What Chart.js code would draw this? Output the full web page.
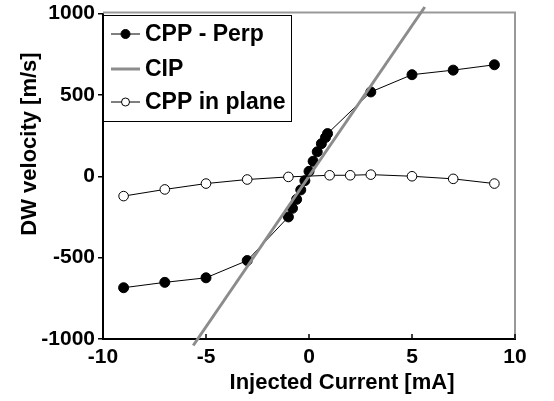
<!DOCTYPE html>
<html lang="en">
<head>
<meta charset="utf-8">
<script src="https://cdn.jsdelivr.net/npm/chart.js@4.4.0/dist/chart.umd.min.js"></script>
<style>
  html, body { margin: 0; padding: 0; background: #fff; }
  #wrap { width: 554px; height: 401px; position: relative; }
</style>
</head>
<body>
<div id="wrap"><canvas id="myChart" width="554" height="401"></canvas></div>
<script>
// CPP - Perp (filled markers)
const perpX = [-9, -7, -5, -3, -1, -0.8, -0.6, -0.4, -0.2, 0, 0.2, 0.4, 0.6, 0.8, 0.9, 3, 5, 7, 9];
const perpY = [-685, -652, -624, -518, -250, -197, -142, -84, -27, 30, 92, 150, 200, 238, 262, 518, 624, 652, 685];
// CIP straight line (end points as drawn)
const cipX = [-5.62, 5.62];
const cipY = [-1040, 1040];
// CPP in plane (open markers)
const inPlaneX = [-9, -7, -5, -3, -1, 1, 2, 3, 5, 7, 9];
const inPlaneY = [-122, -81, -45, -20, -4, 6, 6, 10, 0, -16, -45];

const legendNames = ['CPP - Perp', 'CIP', 'CPP in plane'];
const xTitle = 'Injected Current [mA]';
const yTitle = 'DW velocity [m/s]';

function pts(xs, ys) {
  return xs.map((x, i) => ({x: x, y: ys[i]}));
}

const FONT = "'Liberation Sans', Arial, sans-serif";

const decorPlugin = {
  id: 'decor',
  beforeDatasetsDraw(chart) {
    const ctx = chart.ctx, a = chart.chartArea;
    ctx.save();
    // grey frame on top and right
    ctx.strokeStyle = '#999';
    ctx.lineWidth = 2;
    ctx.beginPath();
    ctx.moveTo(a.left, a.top - 1);
    ctx.lineTo(a.right, a.top - 1);
    ctx.lineTo(a.right, a.bottom);
    ctx.stroke();
    // inward x ticks
    const xs = chart.scales.x;
    ctx.strokeStyle = '#000';
    ctx.lineWidth = 1.5;
    xs.ticks.forEach(t => {
      const px = xs.getPixelForValue(t.value);
      ctx.beginPath();
      ctx.moveTo(px, a.bottom);
      ctx.lineTo(px, a.bottom - 5);
      ctx.stroke();
    });
    ctx.restore();
  },
  afterDraw(chart) {
    const ctx = chart.ctx;
    ctx.save();
    // axis titles
    ctx.fillStyle = '#000';
    ctx.font = 'bold 22px ' + FONT;
    ctx.textAlign = 'center';
    ctx.textBaseline = 'middle';
    ctx.fillText(xTitle, 342, 383);
    ctx.translate(30, 144);
    ctx.rotate(-Math.PI / 2);
    ctx.fillText(yTitle, 0, 0);
    ctx.restore();

    // legend box
    ctx.save();
    const lx = 103, ly = 15, lw = 188, lh = 106;
    ctx.fillStyle = '#fff';
    ctx.fillRect(lx, ly, lw, lh);
    ctx.strokeStyle = '#000';
    ctx.lineWidth = 1;
    ctx.strokeRect(lx + 0.5, ly + 0.5, lw, lh);
    const rows = [34, 69, 102];
    ctx.font = 'bold 23px ' + FONT;
    ctx.textAlign = 'left';
    ctx.textBaseline = 'middle';
    legendNames.forEach((name, i) => {
      const y = rows[i];
      if (i === 1) {
        ctx.strokeStyle = '#8c8c8c';
        ctx.lineWidth = 3;
      } else {
        ctx.strokeStyle = '#000';
        ctx.lineWidth = 1;
      }
      ctx.beginPath();
      ctx.moveTo(111, y);
      ctx.lineTo(140, y);
      ctx.stroke();
      if (i !== 1) {
        ctx.beginPath();
        ctx.arc(125.5, y, i === 0 ? 4.5 : 4, 0, Math.PI * 2);
        ctx.fillStyle = i === 0 ? '#000' : '#fff';
        ctx.fill();
        ctx.strokeStyle = '#000';
        ctx.lineWidth = 1;
        ctx.stroke();
      }
      ctx.fillStyle = '#000';
      ctx.fillText(name, 145, y + 1);
    });
    ctx.restore();
  }
};

const ch = document.getElementById('myChart').getContext('2d');
const chartVar = new Chart(ch, {
  type: 'scatter',
  data: {
    datasets: [
      {
        label: legendNames[0],
        data: pts(perpX, perpY),
        showLine: true,
        borderColor: '#000',
        borderWidth: 1,
        backgroundColor: '#000',
        pointBackgroundColor: '#000',
        pointBorderColor: '#000',
        pointRadius: 5,
        order: 3
      },
      {
        label: legendNames[1],
        data: pts(cipX, cipY),
        showLine: true,
        borderColor: '#8c8c8c',
        borderWidth: 3,
        pointRadius: 0,
        clip: false,
        order: 2
      },
      {
        label: legendNames[2],
        data: pts(inPlaneX, inPlaneY),
        showLine: true,
        borderColor: '#000',
        borderWidth: 1,
        pointBackgroundColor: '#fff',
        pointBorderColor: '#000',
        pointBorderWidth: 1,
        pointRadius: 4.8,
        order: 1
      }
    ]
  },
  options: {
    responsive: false,
    animation: false,
    events: [],
    layout: { padding: { top: 11, right: 39, left: 0, bottom: 0 } },
    plugins: {
      legend: { display: false },
      tooltip: { enabled: false }
    },
    scales: {
      x: {
        type: 'linear',
        min: -10,
        max: 10,
        afterFit: s => { s.height = 62; },
        ticks: {
          stepSize: 5,
          color: '#000',
          padding: 6,
          callback: v => String(v),
          font: { family: FONT, size: 21, weight: 'bold' }
        },
        grid: { display: true, drawOnChartArea: false, drawTicks: false },
        border: { display: true, color: '#000', width: 2 }
      },
      y: {
        type: 'linear',
        min: -1000,
        max: 1000,
        afterFit: s => { s.width = 103; },
        ticks: {
          stepSize: 500,
          color: '#000',
          padding: 3,
          callback: v => String(v),
          font: { family: FONT, size: 21, weight: 'bold', lineHeight: 1 }
        },
        grid: { display: true, drawOnChartArea: false, drawTicks: true, tickLength: 5, color: '#000', lineWidth: 1.5 },
        border: { display: true, color: '#000', width: 2 }
      }
    }
  },
  plugins: [decorPlugin]
});
</script>
</body>
</html>
